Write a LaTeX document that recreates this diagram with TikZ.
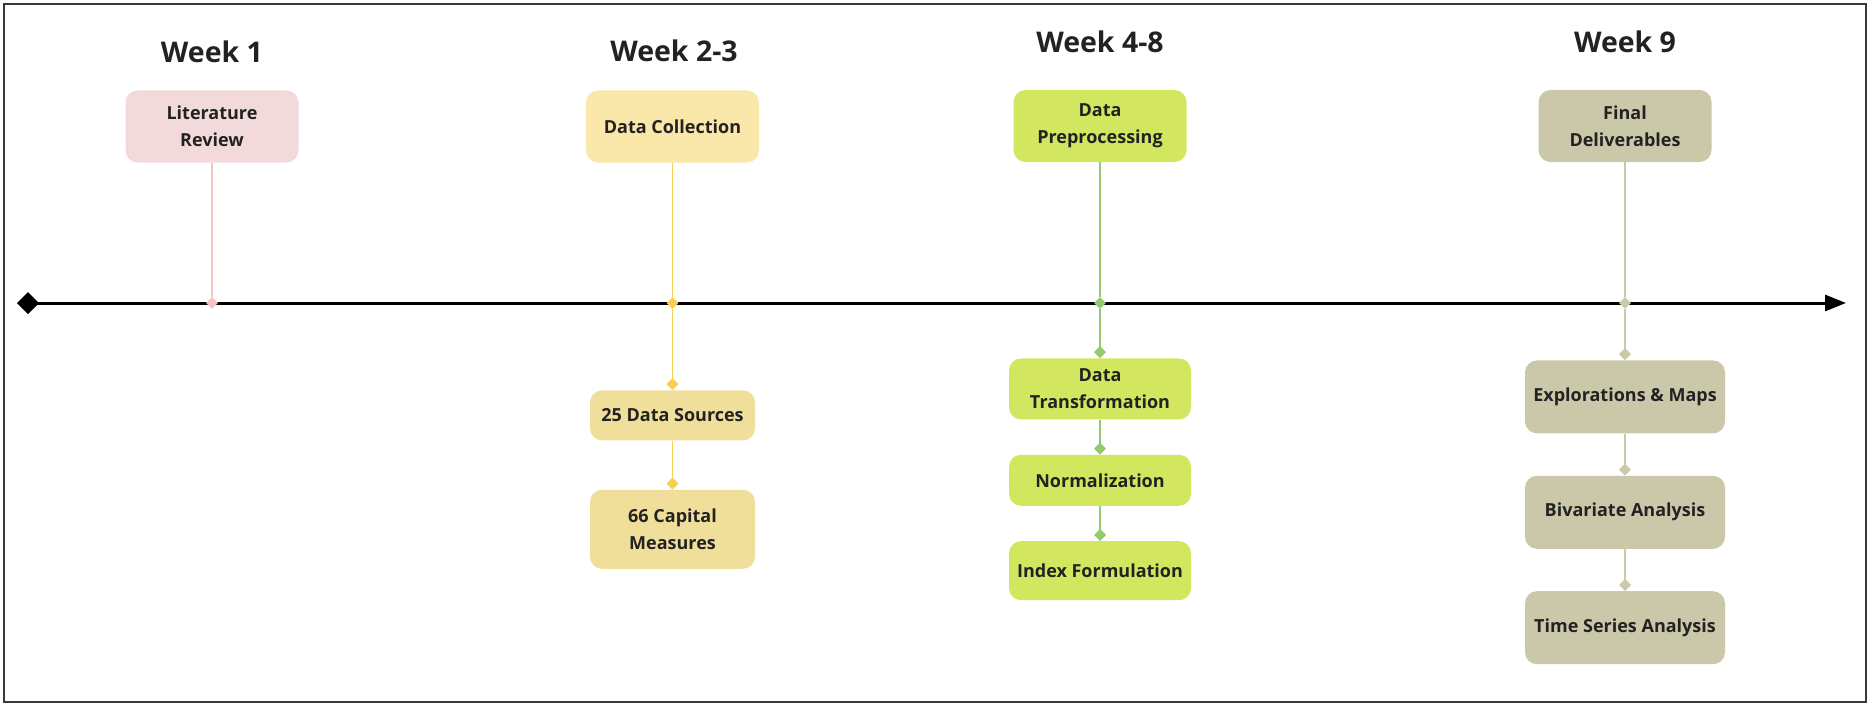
\documentclass[tikz,border=0pt]{standalone}
\usepackage{fontspec}
\setmainfont{Open Sans}
\usepackage{xcolor}
\usepackage{tikz}
\usetikzlibrary{positioning,arrows.meta,shapes.geometric}

\definecolor{ink}{HTML}{222222}
\definecolor{frame}{HTML}{3A3A3A}
\definecolor{pinkfill}{HTML}{F2DADB}
\definecolor{pinkline}{HTML}{F4C4C4}
\definecolor{yelfill}{HTML}{F9E8A9}
\definecolor{yelsub}{HTML}{F0DF9B}
\definecolor{yelline}{HTML}{F6D04F}
\definecolor{grnfill}{HTML}{D3E660}
\definecolor{grnline}{HTML}{93CA6E}
\definecolor{khkfill}{HTML}{CBC8AA}
\definecolor{khkline}{HTML}{CCC9AB}

\begin{document}
\begin{tikzpicture}[x=1pt, y=-1pt, node distance=40pt]
% Define styles
\tikzstyle{week} = [font=\bfseries\fontsize{28.5}{31}\selectfont, text=ink]
\tikzstyle{phase} = [rectangle, rounded corners=12pt, text=ink, font=\bfseries\fontsize{18}{27}\selectfont, align=center, minimum width=173pt, minimum height=72pt, inner sep=0pt]
\tikzstyle{task} = [phase, minimum width=165pt]
\tikzstyle{tick} = [diamond, inner sep=0pt, minimum size=12pt]
\tikzstyle{stem} = [line width=1.6pt]
\tikzstyle{link} = [stem, -{Diamond[length=12pt,width=12pt]}]

\useasboundingbox (0,0) rectangle (1870,706);
\draw [frame, line width=1.2pt] (4,4) rectangle (1866,702);

% Timeline
\coordinate (tl0) at (17,303);
\coordinate (tl1) at (1846,303);
\draw [line width=3pt, {Diamond[length=22pt,width=22pt]}-{Triangle[length=21pt,width=16pt]}] (tl0) -- (tl1);

% Weeks
\node [week] (w1) at (212,52) {Week 1};
\node [week] (w2) at (674,51) {Week 2-3};
\node [week] (w3) at (1100,42) {Week 4-8};
\node [week] (w4) at (1625,42) {Week 9};

% Phases
\node [phase, fill=pinkfill] (lit) at (212,126.5) {Literature\\Review};
\node [phase, fill=yelfill] (coll) at (672.5,126.5) {Data Collection};
\node [phase, fill=grnfill] (prep) at (1100,126) {Data\\Preprocessing};
\node [phase, fill=khkfill] (fin) at (1625,126) {Final\\Deliverables};

% Marks on the timeline
\node [tick, fill=pinkline] (d1) at (lit |- tl0) {};
\node [tick, fill=yelline] (d2) at (coll |- tl0) {};
\node [tick, fill=grnline] (d3) at (prep |- tl0) {};
\node [tick, fill=khkline] (d4) at (fin |- tl0) {};

% Tasks
\node [task, fill=yelsub, below=81pt of d2, minimum height=50pt] (src) {25 Data Sources};
\node [task, fill=yelsub, below=49pt of src, minimum height=79pt] (cap) {66 Capital\\Measures};

\node [task, fill=grnfill, below=49pt of d3, minimum width=182pt, minimum height=61pt] (trans) {Data\\Transformation};
\node [task, fill=grnfill, below=35pt of trans, minimum width=182pt, minimum height=51pt] (norm) {Normalization};
\node [task, fill=grnfill, below=35pt of norm, minimum width=182pt, minimum height=59pt] (idx) {Index Formulation};

\node [task, fill=khkfill, below=51pt of d4, minimum width=200pt, minimum height=73pt] (expl) {Explorations \& Maps};
\node [task, fill=khkfill, below=42pt of expl, minimum width=200pt, minimum height=73pt] (biv) {Bivariate Analysis};
\node [task, fill=khkfill, below=42pt of biv, minimum width=200pt, minimum height=73pt] (ts) {Time Series Analysis};

% Connections
\draw [stem, pinkline] (lit) -- (d1);
\draw [stem, yelline] (coll) -- (d2);
\draw [link, yelline] (d2) -- (src);
\draw [link, yelline] (src) -- (cap);
\draw [stem, grnline] (prep) -- (d3);
\draw [link, grnline] (d3) -- (trans);
\draw [link, grnline] (trans) -- (norm);
\draw [link, grnline] (norm) -- (idx);
\draw [stem, khkline] (fin) -- (d4);
\draw [link, khkline] (d4) -- (expl);
\draw [link, khkline] (expl) -- (biv);
\draw [link, khkline] (biv) -- (ts);

\end{tikzpicture}
\end{document}
